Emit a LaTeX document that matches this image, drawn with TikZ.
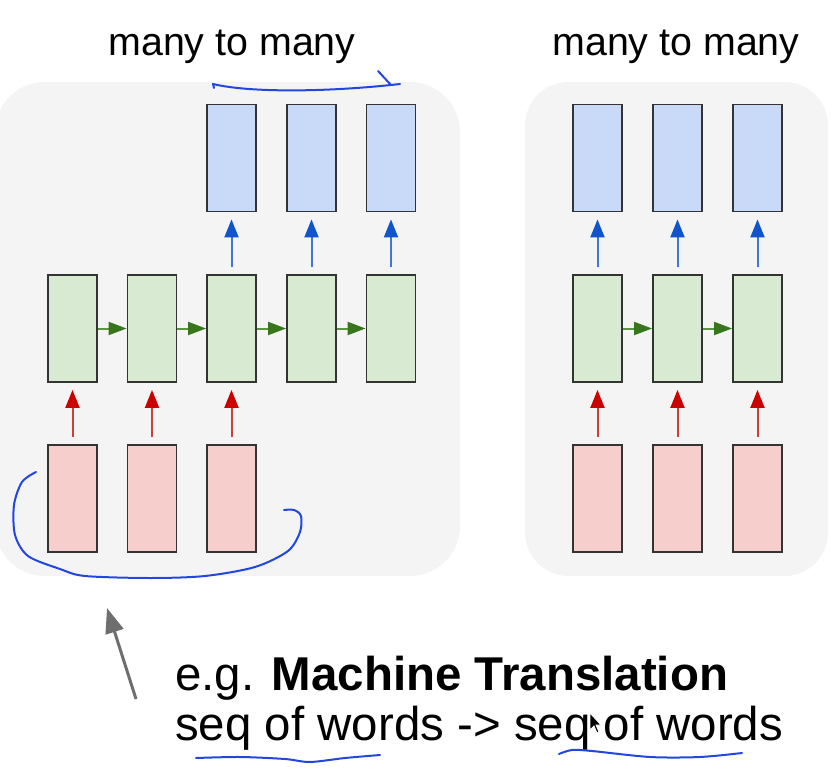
\documentclass[tikz,border=0pt]{standalone}
\usepackage{fontspec}
\setmainfont{Liberation Sans}
\usetikzlibrary{arrows.meta}

\definecolor{panel}{RGB}{244,244,244}
\definecolor{outfill}{RGB}{201,218,248}
\definecolor{hidfill}{RGB}{217,234,211}
\definecolor{infill}{RGB}{246,207,204}
\definecolor{boxline}{RGB}{51,51,51}
\definecolor{outshaft}{RGB}{61,120,216}
\definecolor{outtip}{RGB}{17,85,204}
\definecolor{hidshaft}{RGB}{90,150,60}
\definecolor{hidtip}{RGB}{56,118,29}
\definecolor{inshaft}{RGB}{204,65,55}
\definecolor{intip}{RGB}{204,0,0}
\definecolor{pen}{RGB}{35,70,225}
\definecolor{pointer}{RGB}{110,110,110}

\begin{document}
\begin{tikzpicture}[x=0.3mm,y=-0.3mm,
    cell/.style={draw=boxline, line width=0.55mm, minimum width=14.7mm, minimum height=32.1mm, inner sep=0pt},
    outcell/.style={cell, fill=outfill},
    hidcell/.style={cell, fill=hidfill},
    incell/.style={cell, fill=infill},
    uparrow/.style={line width=0.6mm, shorten <=2.1mm, shorten >=2.1mm},
    outarrow/.style={uparrow, draw=outshaft, -{Triangle[length=5.4mm,width=4.2mm,color=outtip]}},
    inarrow/.style={uparrow, draw=inshaft, -{Triangle[length=5.4mm,width=4.2mm,color=intip]}},
    hidarrow/.style={line width=0.6mm, draw=hidshaft, -{Triangle[length=5.4mm,width=3.9mm,color=hidtip]}},
    title/.style={font=\fontsize{33.6}{40}\selectfont, inner sep=0pt, anchor=base},
    caption/.style={font=\fontsize{40.5}{50}\selectfont, inner sep=0pt, anchor=base west},
    ink/.style={draw=pen, line width=0.6mm, line cap=round, line join=round}
  ]
  \useasboundingbox (0,0) rectangle (839,773);

  % fonds gris des deux panneaux
  \fill[panel, rounded corners=15mm] (-5,82) rectangle (460,576);
  \fill[panel, rounded corners=13mm] (525,82) rectangle (828,576);

  \node[title] (lefttitle) at (232,55) {many to many};
  \node[title] (righttitle) at (676,55) {many to many};

  % panneau gauche : 3 entrees, 5 cellules, 3 sorties
  \foreach \i/\x in {1/72.5,2/152,3/231.5,4/311.5,5/391}
    \node[hidcell] (hid\i) at (\x,328.5) {};
  \foreach \i/\x in {1/72.5,2/152,3/231.5}
    \node[incell] (in\i) at (\x,498.5) {};
  \foreach \i/\x in {1/231.5,2/311.5,3/391}
    \node[outcell] (out\i) at (\x,158) {};

  \foreach \i in {1,2,3}
    \draw[inarrow] (in\i) -- (hid\i);
  \foreach \i/\j in {1/2,2/3,3/4,4/5}
    \draw[hidarrow] (hid\i) -- (hid\j);
  \foreach \i/\j in {3/1,4/2,5/3}
    \draw[outarrow] (hid\i) -- (out\j);

  % panneau droit : 3 x 3
  \foreach \i/\x in {1/597.5,2/677.5,3/757.5}{
    \node[hidcell] (rhid\i) at (\x,328.5) {};
    \node[incell] (rin\i) at (\x,498.5) {};
    \node[outcell] (rout\i) at (\x,158) {};
    \draw[inarrow] (rin\i) -- (rhid\i);
    \draw[outarrow] (rhid\i) -- (rout\i);
  }
  \draw[hidarrow] (rhid1) -- (rhid2);
  \draw[hidarrow] (rhid2) -- (rhid3);

  % texte du bas
  \node[caption] (example) at (175,690) {e.g. \textbf{Machine Translation}};
  \node[caption] (seqline) at (175,740) {seq of words -> seq of words};

  % fleche grise
  \coordinate (ptrtail) at (136,699);
  \coordinate (ptrhead) at (107,608);
  \draw[draw=pointer, line width=0.9mm, -{Triangle[length=7.5mm,width=5.5mm]}] (ptrtail) -- (ptrhead);

  % annotations a la main
  \draw[ink] (214,88) -- (213,84) .. controls (250,93) and (330,92) .. (400,84);
  \draw[ink] (378,71) -- (391,85);
  \draw[ink] plot[smooth] coordinates {(36,472) (22,482) (14,505) (15,535) (28,556) (60,569) (85,576) (150,578) (205,576) (255,567) (288,551) (300,532) (301,516) (294,510) (284,510)};
  \draw[ink] plot[smooth] coordinates {(196,758) (240,757) (285,759) (310,762) (345,758) (380,755)};
  \draw[ink] plot[smooth] coordinates {(559,754) (572,750) (592,751) (650,757) (700,757) (742,753)};

  % curseur
  \begin{scope}[shift={(590,713)}]
    \draw[white, fill=black, line width=0.25mm] (0,0) -- (0,17) -- (4,13) -- (7,20) -- (9,19) -- (6,12) -- (11,12) -- cycle;
  \end{scope}
\end{tikzpicture}
\end{document}
